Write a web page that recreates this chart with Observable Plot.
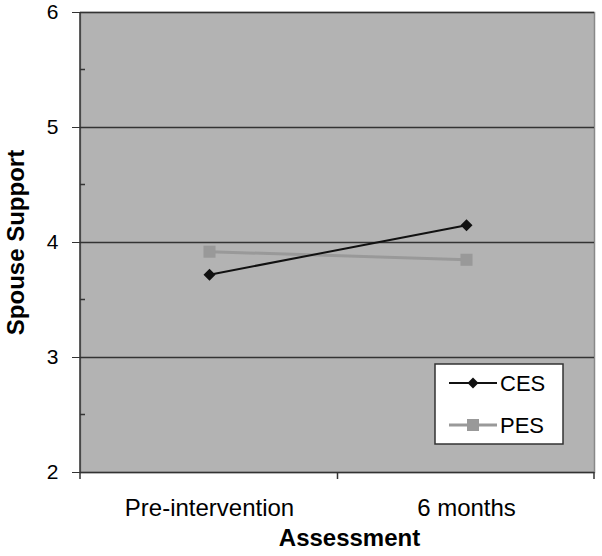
<!DOCTYPE html>
<html><head><meta charset="utf-8">
<script src="https://cdn.jsdelivr.net/npm/d3@7"></script>
<script src="https://cdn.jsdelivr.net/npm/@observablehq/plot@0.6"></script>
<style>body{margin:0;background:#fff} svg{display:block}</style>
</head><body><div id="chart"></div>
<script>
const assessments = ["Pre-intervention", "6 months"];
const cesValues = [3.72, 4.15];
const pesValues = [3.92, 3.85];
const seriesNames = ["CES", "PES"];
const seriesColors = ["#111111", "#999999"];
const yTicks = [2, 3, 4, 5, 6];
const yMinorTicks = [2.5, 3.5, 4.5, 5.5];
const gridValues = [3, 4, 5, 6];
const yTitle = "Spouse Support";
const xTitle = "Assessment";

const ces = assessments.map((a, i) => ({assessment: a, value: cesValues[i], series: "CES"}));
const pes = assessments.map((a, i) => ({assessment: a, value: pesValues[i], series: "PES"}));

const diamond = {draw(ctx, size) { const r = Math.sqrt(size / 2); ctx.moveTo(0, -r); ctx.lineTo(r, 0); ctx.lineTo(0, r); ctx.lineTo(-r, 0); ctx.closePath(); }};
const square = {draw(ctx, size) { const s = Math.sqrt(size) / 2; ctx.rect(-s, -s, 2 * s, 2 * s); }};

function decorations(index, scales, values, dims) {
  const {width, height, marginLeft: ml, marginRight: mr, marginTop: mt, marginBottom: mb} = dims;
  const x0 = ml, x1 = width - mr, y0 = mt, y1 = height - mb;
  const g = d3.create("svg:g").attr("stroke", "#333").attr("stroke-width", 1.5);
  g.append("line").attr("x1", x0).attr("x2", x0).attr("y1", y0).attr("y2", y1);
  for (const v of yMinorTicks) {
    const y = scales.y(v);
    g.append("line").attr("x1", x0).attr("x2", x0 + 5).attr("y1", y).attr("y2", y);
  }
  const xs = assessments.map(a => scales.x(a));
  const bounds = [x0, ...d3.pairs(xs).map(([a, b]) => (a + b) / 2), x1];
  for (const bx of bounds) {
    g.append("line").attr("x1", bx).attr("x2", bx).attr("y1", y1).attr("y2", y1 + 7);
  }
  return g.node();
}

function legend(index, scales, values, dims) {
  const {width, height, marginRight: mr, marginBottom: mb} = dims;
  const bw = 128, bh = 80;
  const bx = width - mr - 31 - bw, by = height - mb - 28 - bh;
  const g = d3.create("svg:g");
  g.append("rect").attr("x", bx).attr("y", by).attr("width", bw).attr("height", bh)
    .attr("fill", "#fff").attr("stroke", "#333").attr("stroke-width", 1.5);
  seriesNames.forEach((name, i) => {
    const cy = by + 19 + i * 42;
    g.append("line").attr("x1", bx + 14).attr("x2", bx + 62).attr("y1", cy).attr("y2", cy)
      .attr("stroke", seriesColors[i]).attr("stroke-width", i === 0 ? 2 : 3);
    if (i === 0) {
      g.append("path").attr("d", "M0,-5.5L5.5,0L0,5.5L-5.5,0Z").attr("transform", `translate(${bx + 38},${cy})`).attr("fill", seriesColors[i]);
    } else {
      g.append("rect").attr("x", bx + 32).attr("y", cy - 6).attr("width", 12).attr("height", 12).attr("fill", seriesColors[i]);
    }
    g.append("text").attr("x", bx + 65).attr("y", cy + 8).attr("font-size", 22)
      .attr("text-anchor", "start").attr("fill", "#000").text(name);
  });
  return g.node();
}

const chart = Plot.plot({
  width: 602,
  height: 556,
  marginLeft: 80,
  marginRight: 8,
  marginTop: 12,
  marginBottom: 84,
  style: {fontFamily: "Liberation Sans, Arial, sans-serif", color: "#000", background: "#fff"},
  x: {type: "point", domain: assessments, padding: 0.5},
  y: {domain: [2, 6]},
  marks: [
    Plot.frame({fill: "#b3b3b3", stroke: "#888", strokeWidth: 1.5}),
    Plot.ruleY(gridValues, {stroke: "#333", strokeWidth: 1.5}),
    Plot.ruleY([2], {stroke: "#333", strokeWidth: 1.5}),
    decorations,
    Plot.line(pes, {x: "assessment", y: "value", stroke: seriesColors[1], strokeWidth: 3}),
    Plot.dot(pes, {x: "assessment", y: "value", symbol: square, r: 6.8, fill: seriesColors[1], stroke: null}),
    Plot.line(ces, {x: "assessment", y: "value", stroke: seriesColors[0], strokeWidth: 2}),
    Plot.dot(ces, {x: "assessment", y: "value", symbol: diamond, r: 4.8, fill: seriesColors[0], stroke: null}),
    legend,
    Plot.axisY(yTicks, {tickSize: 8, tickPadding: 14, fontSize: 21, tickFormat: "d", label: null, stroke: "#333"}),
    Plot.axisX({tickSize: 0, tickPadding: 26, fontSize: 24, label: null}),
    Plot.text([yTitle], {frameAnchor: "left", textAnchor: "middle", dx: -64, rotate: -90, fontWeight: "bold", fontSize: 24}),
    Plot.text([xTitle], {frameAnchor: "bottom", textAnchor: "middle", dx: 12, dy: 73, fontWeight: "bold", fontSize: 24})
  ]
});
document.getElementById("chart").appendChild(chart);
</script>
</body></html>
